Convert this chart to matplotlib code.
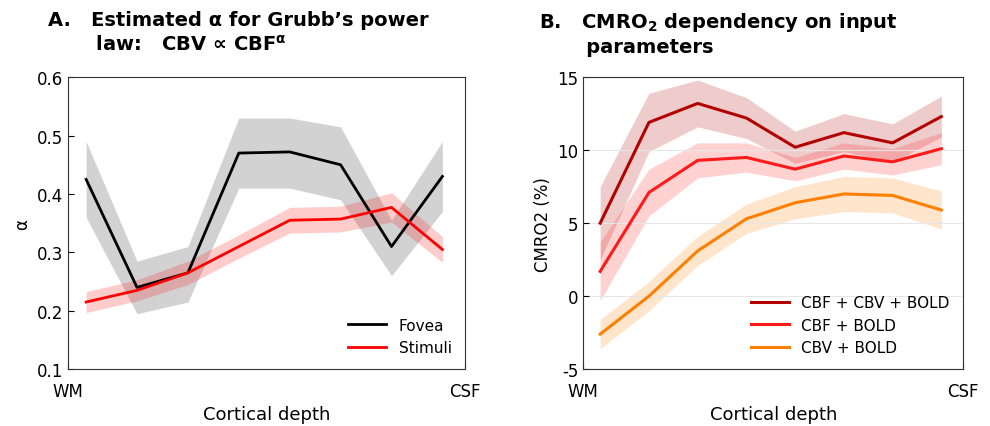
import matplotlib
matplotlib.use("Agg")
import matplotlib.pyplot as plt
import numpy as np

x = np.arange(1, 9)
fovea = [0.425, 0.24, 0.265, 0.47, 0.472, 0.45, 0.31, 0.43]
fovea_lo = [0.36, 0.195, 0.215, 0.41, 0.41, 0.39, 0.26, 0.37]
fovea_hi = [0.49, 0.285, 0.31, 0.53, 0.53, 0.515, 0.355, 0.49]
stim = [0.215, 0.235, 0.265, 0.31, 0.355, 0.357, 0.377, 0.305]
stim_err = [0.018, 0.018, 0.02, 0.02, 0.022, 0.022, 0.025, 0.022]

all3 = [5.0, 11.9, 13.2, 12.2, 10.2, 11.2, 10.5, 12.3]
all3_err = [2.5, 2.0, 1.6, 1.4, 1.1, 1.3, 1.3, 1.4]
cbf_bold = [1.7, 7.1, 9.3, 9.5, 8.7, 9.6, 9.2, 10.1]
cbf_bold_err = [2.0, 1.6, 1.2, 1.0, 0.8, 0.9, 0.9, 1.1]
cbv_bold = [-2.6, 0.0, 3.1, 5.3, 6.4, 7.0, 6.9, 5.9]
cbv_bold_err = [1.0, 1.0, 1.0, 1.0, 1.1, 1.2, 1.2, 1.3]

fig = plt.figure(figsize=(9.9, 4.27), dpi=100)
ax1 = fig.add_axes([0.069, 0.133, 0.401, 0.684])
ax2 = fig.add_axes([0.589, 0.133, 0.384, 0.684])

ax1.fill_between(x, fovea_lo, fovea_hi, color='0.5', alpha=0.35, lw=0)
s = np.array(stim); e = np.array(stim_err)
ax1.fill_between(x, s - e, s + e, color='red', alpha=0.2, lw=0)
ax1.plot(x, fovea, color='black', lw=2, label='Fovea')
ax1.plot(x, stim, color='red', lw=2, label='Stimuli')
ax1.set_ylim(0.1, 0.6)
ax1.set_yticks([0.1, 0.2, 0.3, 0.4, 0.5, 0.6])
ax1.set_xlim(0.65, 8.45)
ax1.set_xticks([0.65, 8.45]); ax1.set_xticklabels(['WM', 'CSF'])
ax1.set_ylabel('α', fontsize=12)
ax1.set_xlabel('Cortical depth', fontsize=13)
ax1.legend(loc='lower right', fontsize=11, frameon=False, handlelength=2.5)
fig.text(0.048, 0.975, 'A.   Estimated α for Grubb’s power\n       law:   CBV ∝ CBF$^{\\mathbf{α}}$',
         fontweight='bold', fontsize=14, va='top', ha='left', linespacing=1.3)

for v, err, c, lab in [(all3, all3_err, '#b30000', 'CBF + CBV + BOLD'),
                       (cbf_bold, cbf_bold_err, '#ff1a1a', 'CBF + BOLD'),
                       (cbv_bold, cbv_bold_err, '#ff8000', 'CBV + BOLD')]:
    v = np.array(v); err = np.array(err)
    ax2.fill_between(x, v - err, v + err, color=c, alpha=0.2, lw=0)
    ax2.plot(x, v, color=c, lw=2.2, label=lab)
ax2.set_ylim(-5, 15)
ax2.set_yticks([-5, 0, 5, 10, 15]); ax2.set_yticklabels(['-5', '0', '5', '10', '15'])
ax2.set_xlim(0.65, 8.45)
ax2.set_xticks([0.65, 8.45]); ax2.set_xticklabels(['WM', 'CSF'])
ax2.grid(axis='y', color='0.9', lw=0.8)
ax2.set_ylabel('CMRO2 (%)', fontsize=12)
ax2.set_xlabel('Cortical depth', fontsize=13)
ax2.legend(loc='lower right', fontsize=11, frameon=False, handlelength=2.5)
fig.text(0.544, 0.975, 'B.   CMRO$_\\mathbf{2}$ dependency on input\n       parameters',
         fontweight='bold', fontsize=14, va='top', ha='left', linespacing=1.3)

for ax in (ax1, ax2):
    ax.tick_params(labelsize=12, direction='in', length=4)
    ax.tick_params(axis='x', pad=9)
    for sp in ax.spines.values():
        sp.set_color('0.2')
fig.savefig('out.png', dpi=100)
